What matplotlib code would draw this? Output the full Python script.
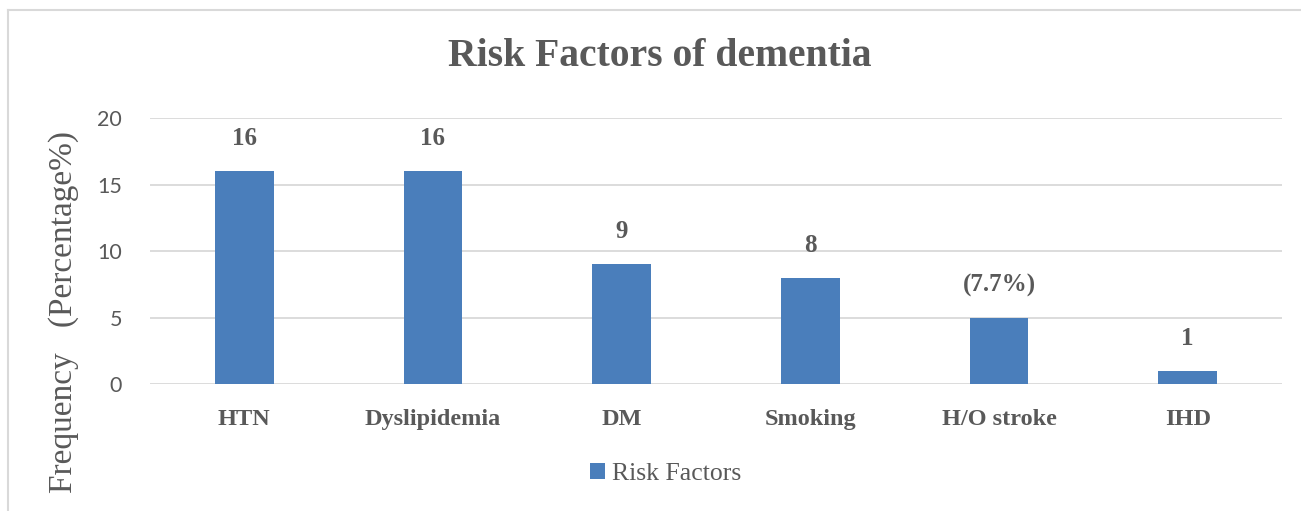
import matplotlib.pyplot as plt
import numpy as np

# risk factor frequencies
categories = ['HTN', 'Dyslipidemia', 'DM', 'Smoking', 'H/O stroke', 'IHD']
values = [16, 16, 9, 8, 5, 1]
bar_labels = ['16', '16', '9', '8', '(7.7%)', '1']
yticks = [0, 5, 10, 15, 20]

bar_color = '#4a7ebb'
text_gray = '#595959'
serif = 'Liberation Serif'

fig = plt.figure(figsize=(13.01, 5.11), dpi=100)
ax = fig.add_axes([150 / 1301, 1 - 384 / 511, 1132 / 1301, 266 / 511])

x = np.arange(len(categories))
bars = ax.bar(x, values, width=0.31, color=bar_color, label='Risk Factors', zorder=3)

for bar, lab in zip(bars, bar_labels):
    ax.annotate(lab, (bar.get_x() + bar.get_width() / 2, bar.get_height()),
                xytext=(0, 15), textcoords='offset points', ha='center', va='bottom',
                fontsize=18, fontweight='bold', family=serif, color=text_gray)

ax.set_xlim(-0.5, len(categories) - 0.5)
ax.set_ylim(0, 20)
ax.set_yticks(yticks)
ax.set_xticks(x)
ax.set_xticklabels(categories, fontsize=17.5, fontweight='bold', family=serif, color=text_gray)
ax.tick_params(axis='x', length=0, pad=18)
ax.tick_params(axis='y', length=0, pad=20, labelcolor=text_gray)
for t in ax.get_yticklabels():
    t.set_family('Lato')
    t.set_fontsize(15.5)
ax.grid(axis='y', color='#d9d9d9', linewidth=1.3, zorder=0)
for s in ax.spines.values():
    s.set_visible(False)

fig.text(0.507, 1 - 56 / 511, 'Risk Factors of dementia', ha='center', va='center',
         fontsize=28.5, fontweight='bold', family=serif, color=text_gray)
fig.text(64 / 1301, 1 - 312 / 511, 'Frequency   (Percentage%)', rotation=90,
         ha='center', va='center', fontsize=24, family=serif, color=text_gray)

leg = fig.legend(loc='center', bbox_to_anchor=(666 / 1301, 1 - 474 / 511), frameon=False,
                 prop={'family': serif, 'size': 18.5}, handlelength=0.55, handleheight=0.55,
                 handletextpad=0.3)
for t in leg.get_texts():
    t.set_color(text_gray)

# outer chart border (top and left)
fig.add_artist(plt.Line2D([8 / 1301, 8 / 1301], [0, 1 - 10 / 511], color='#d9d9d9', lw=1.5))
fig.add_artist(plt.Line2D([8 / 1301, 1], [1 - 10 / 511, 1 - 10 / 511], color='#d9d9d9', lw=1.5))

fig.savefig('out.png', dpi=100)
